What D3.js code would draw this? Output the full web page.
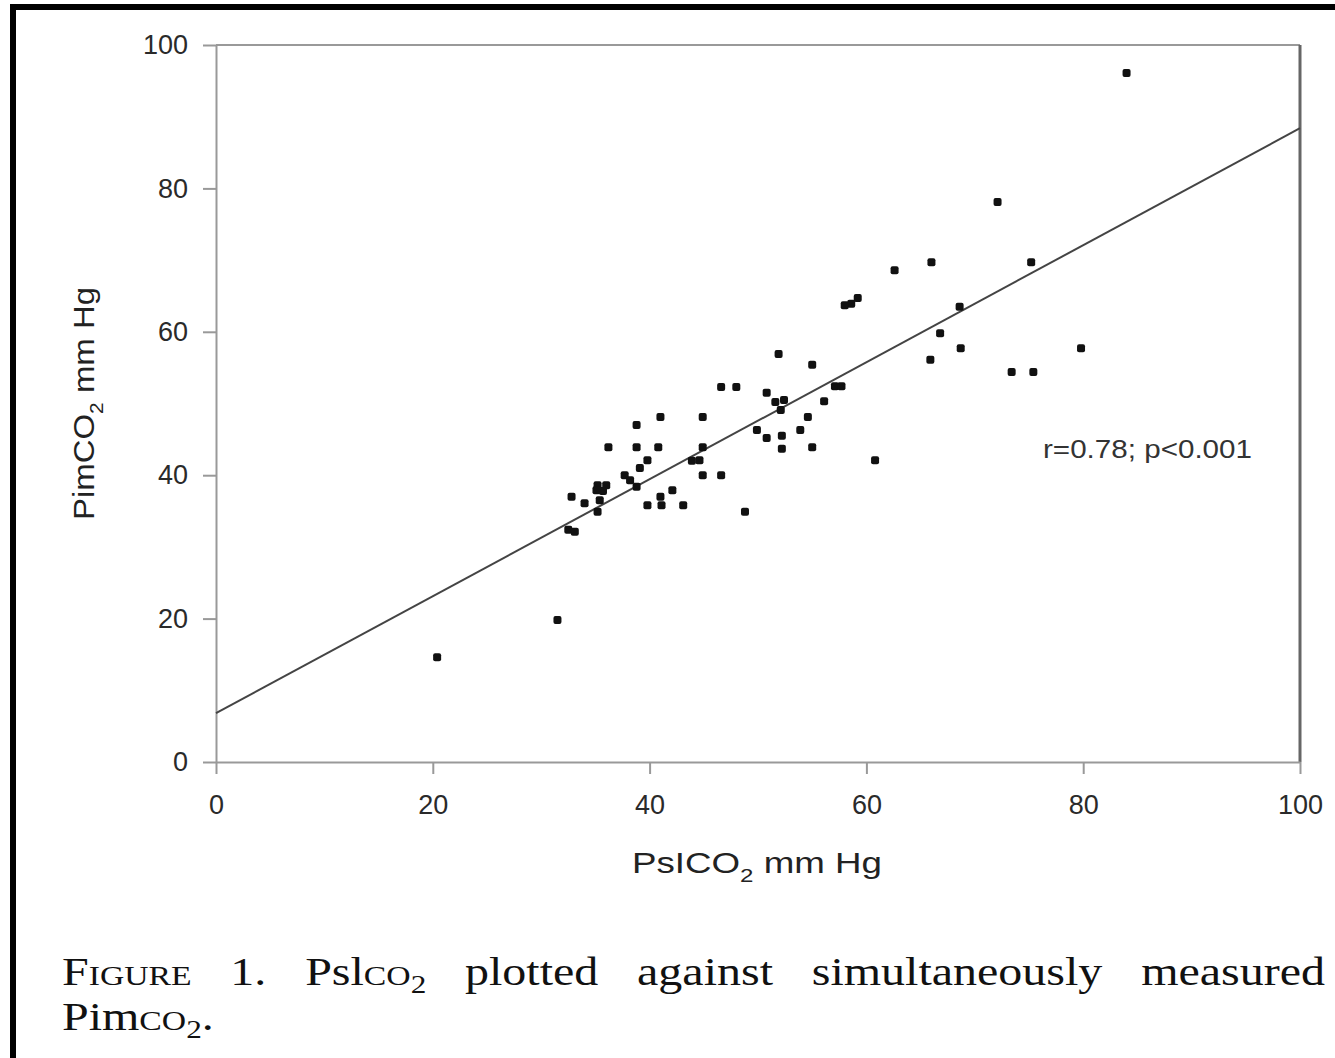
<!DOCTYPE html>
<html>
<head>
<meta charset="utf-8">
<script src="https://cdn.jsdelivr.net/npm/d3@7"></script>
<style>
  body { margin: 0; background: #fff; }
  svg { display: block; }
</style>
</head>
<body>
<div id="chart"></div>
<script>
// PslCO2 (x) vs PimCO2 (y), mm Hg
const pslco2 = [84.0, 72.1, 75.2, 66.0, 62.6, 59.2, 58.6, 58.0, 68.6, 66.8,
  68.7, 65.9, 73.4, 75.4, 79.8, 51.9, 55.0, 57.1, 57.7, 46.6,
  48.0, 50.8, 51.6, 52.4, 52.1, 56.1, 44.9, 54.6, 41.0, 38.8,
  49.9, 50.8, 52.2, 52.2, 53.9, 55.0, 44.9, 43.9, 44.6, 44.9,
  46.6, 60.8, 36.2, 38.8, 40.8, 39.8, 39.1, 37.7, 35.2, 36.0,
  35.7, 35.1, 38.8, 38.2, 32.8, 34.0, 35.4, 35.2, 42.1, 41.0,
  39.8, 41.1, 43.1, 48.8, 32.5, 33.1, 31.5, 20.4]
const pimco2 = [96.1, 78.1, 69.7, 69.7, 68.6, 64.7, 63.9, 63.7, 63.5, 59.8,
  57.7, 56.1, 54.4, 54.4, 57.7, 56.9, 55.4, 52.4, 52.4, 52.3,
  52.3, 51.5, 50.2, 50.5, 49.1, 50.3, 48.1, 48.1, 48.1, 47.0,
  46.3, 45.2, 45.5, 43.7, 46.3, 43.9, 43.9, 42.0, 42.1, 40.0,
  40.0, 42.1, 43.9, 43.9, 43.9, 42.1, 41.0, 40.0, 38.6, 38.6,
  37.8, 37.9, 38.4, 39.3, 37.0, 36.1, 36.5, 34.9, 37.9, 37.0,
  35.8, 35.8, 35.8, 34.9, 32.4, 32.1, 19.8, 14.6]

// regression line end points
const fitX = [0, 100]
const fitY = [6.8, 88.4]

const xTicks = [0, 20, 40, 60, 80, 100]
const yTicks = [0, 20, 40, 60, 80, 100]

const width = 1335
const height = 1058

const svg = d3.select("#chart")
    .append("svg")
    .attr("width", width)
    .attr("height", height)

// black frame around the figure
svg.append("rect")
    .attr("x", 13)
    .attr("y", 7)
    .attr("width", width + 20)
    .attr("height", height + 20)
    .attr("fill", "none")
    .attr("stroke", "#000")
    .attr("stroke-width", 6)

const x = d3.scaleLinear().domain([0, 100]).range([216, 1300])
const y = d3.scaleLinear().domain([0, 100]).range([762, 45])

// plot area border (top + right)
svg.append("line")
    .attr("x1", x(0)).attr("x2", x(100))
    .attr("y1", y(100)).attr("y2", y(100))
    .attr("stroke", "#999").attr("stroke-width", 2)
svg.append("line")
    .attr("x1", x(100)).attr("x2", x(100))
    .attr("y1", y(100)).attr("y2", y(0))
    .attr("stroke", "#666").attr("stroke-width", 3)

const xAxis = svg.append("g")
    .attr("transform", `translate(0,${y(0)})`)
    .call(d3.axisBottom(x).tickValues(xTicks).tickSize(12).tickPadding(21).tickSizeOuter(0))
const yAxis = svg.append("g")
    .attr("transform", `translate(${x(0)},0)`)
    .call(d3.axisLeft(y).tickValues(yTicks).tickSize(13).tickPadding(15).tickSizeOuter(0))

for (const g of [xAxis, yAxis]) {
    g.select(".domain").attr("stroke", "#999").attr("stroke-width", 2)
    g.selectAll(".tick line").attr("stroke", "#999").attr("stroke-width", 2)
    g.selectAll(".tick text")
        .attr("fill", "#2a2a2a")
        .style("font-family", "'Liberation Sans', Arial, sans-serif")
        .style("font-size", "27px")
}

// fitted line
svg.append("line")
    .attr("x1", x(fitX[0])).attr("y1", y(fitY[0]))
    .attr("x2", x(fitX[1])).attr("y2", y(fitY[1]))
    .attr("stroke", "#444")
    .attr("stroke-width", 2)

// points
svg.append("g")
    .selectAll("rect")
    .data(d3.range(pslco2.length))
    .enter()
    .append("rect")
    .attr("x", i => x(pslco2[i]) - 4)
    .attr("y", i => y(pimco2[i]) - 4)
    .attr("width", 8)
    .attr("height", 8)
    .attr("rx", 2)
    .attr("fill", "#111")

const sans = "'Liberation Sans', Arial, sans-serif"

svg.append("text")
    .attr("x", 1043)
    .attr("y", 458)
    .attr("fill", "#333")
    .style("font-family", sans)
    .style("font-size", "26px")
    .attr("textLength", 209)
    .attr("lengthAdjust", "spacingAndGlyphs")
    .text("r=0.78; p<0.001")

// x axis title
const xt = svg.append("text")
    .attr("x", 632)
    .attr("y", 873)
    .attr("fill", "#222")
    .style("font-family", sans)
    .style("font-size", "29px")
xt.append("tspan").text("PsICO")
xt.append("tspan").attr("dy", 9).style("font-size", "19px").text("2")
xt.append("tspan").attr("dy", -9).text("  mm Hg")
xt.attr("textLength", 250).attr("lengthAdjust", "spacingAndGlyphs")

// y axis title
const yt = svg.append("text")
    .attr("transform", "translate(94,520) rotate(-90)")
    .attr("fill", "#222")
    .style("font-family", sans)
    .style("font-size", "30px")
yt.append("tspan").text("PimCO")
yt.append("tspan").attr("dy", 9).style("font-size", "19px").text("2")
yt.append("tspan").attr("dy", -9).text(" mm Hg")
yt.attr("textLength", 233).attr("lengthAdjust", "spacingAndGlyphs")

// caption: serif, horizontally stretched like the scanned figure
const serif = "'Liberation Serif', 'Times New Roman', serif"
const stretch = 1.2
const cap1 = svg.append("text")
    .attr("transform", `translate(62,985) scale(${stretch},1)`)
    .attr("fill", "#111")
    .style("font-family", serif)
    .style("font-size", "40px")
cap1.append("tspan").style("font-variant", "small-caps").text("Figure")
cap1.append("tspan").text(" 1. Psl")
cap1.append("tspan").style("font-variant", "small-caps").text("co")
cap1.append("tspan").attr("dy", 8).style("font-size", "26px").text("2")
cap1.append("tspan").attr("dy", -8).text(" plotted against simultaneously measured")

// spread the words over the full line (6 word gaps)
const natural = cap1.node().getComputedTextLength()
const gap = Math.max(0, (1263 / stretch - natural) / 6)
cap1.style("word-spacing", gap + "px")

const cap2 = svg.append("text")
    .attr("transform", `translate(62,1030) scale(${stretch},1)`)
    .attr("fill", "#111")
    .style("font-family", serif)
    .style("font-size", "40px")
cap2.append("tspan").text("Pim")
cap2.append("tspan").style("font-variant", "small-caps").text("co")
cap2.append("tspan").attr("dy", 8).style("font-size", "26px").text("2")
cap2.append("tspan").attr("dy", -8).text(".")
</script>
</body>
</html>
